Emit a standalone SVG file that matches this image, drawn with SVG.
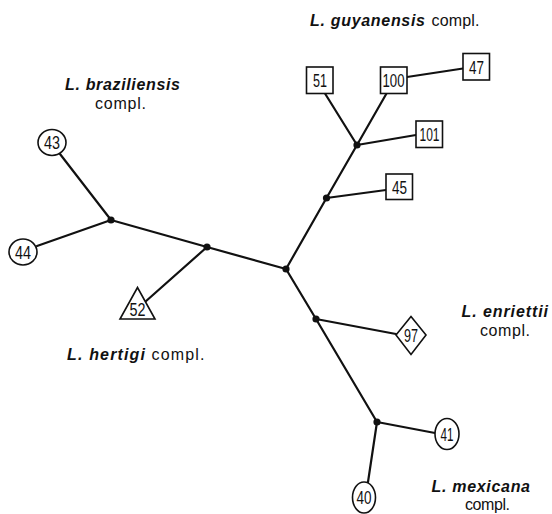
<svg xmlns="http://www.w3.org/2000/svg" width="552" height="514" viewBox="0 0 552 514">
<style>
.edge{stroke:#111;stroke-width:2.2;fill:none;stroke-linecap:round}
.shape{fill:#fff;stroke:#111;stroke-width:1.6}
.dot{fill:#111}
.num{font-family:"Liberation Sans Narrow","Liberation Sans",Arial,sans-serif;font-size:18px;fill:#111;text-anchor:middle}
.sp{font-family:"Liberation Sans",Arial,sans-serif;font-size:16px;font-weight:bold;font-style:italic;fill:#111}
.cp{font-family:"Liberation Sans",Arial,sans-serif;font-size:16px;fill:#111}
</style>
<rect width="552" height="514" fill="#fff"/>
<g id="connectors">
<line class="edge" x1="111" y1="220" x2="60" y2="154"/>
<line class="edge" x1="111" y1="220" x2="37" y2="246"/>
<line class="edge" x1="111" y1="220" x2="207" y2="247"/>
<line class="edge" x1="207" y1="247" x2="145" y2="302"/>
<line class="edge" x1="207" y1="247" x2="286" y2="269"/>
<line class="edge" x1="286" y1="269" x2="326.5" y2="198"/>
<line class="edge" x1="326.5" y1="198" x2="386" y2="190"/>
<line class="edge" x1="326.5" y1="198" x2="357" y2="145"/>
<line class="edge" x1="357" y1="145" x2="325" y2="93.5"/>
<line class="edge" x1="357" y1="145" x2="386.5" y2="93.5"/>
<line class="edge" x1="357" y1="145" x2="416" y2="135"/>
<line class="edge" x1="407" y1="77" x2="463" y2="68.5"/>
<line class="edge" x1="286" y1="269" x2="316" y2="319"/>
<line class="edge" x1="316" y1="319" x2="396" y2="334"/>
<line class="edge" x1="316" y1="319" x2="377" y2="422"/>
<line class="edge" x1="377" y1="422" x2="435" y2="433"/>
<line class="edge" x1="377" y1="422" x2="368" y2="482"/>
</g>
<g id="junctions">
<circle class="dot" cx="111" cy="220" r="3.6"/>
<circle class="dot" cx="207" cy="247" r="3.6"/>
<circle class="dot" cx="286" cy="269" r="3.6"/>
<circle class="dot" cx="326.5" cy="198" r="3.6"/>
<circle class="dot" cx="357" cy="145" r="3.6"/>
<circle class="dot" cx="316" cy="319" r="3.6"/>
<circle class="dot" cx="377" cy="422" r="3.6"/>
</g>
<g id="n43"><ellipse class="shape" cx="52" cy="142.5" rx="14" ry="13"/><text class="num" x="52" y="149" textLength="16" lengthAdjust="spacingAndGlyphs">43</text></g>
<g id="n44"><ellipse class="shape" cx="23" cy="252" rx="14" ry="13"/><text class="num" x="23" y="258.5" textLength="16" lengthAdjust="spacingAndGlyphs">44</text></g>
<g id="n52"><polygon class="shape" points="137.5,287.5 120,319 155,319"/><text class="num" x="137.5" y="316" textLength="16" lengthAdjust="spacingAndGlyphs">52</text></g>
<g id="n51"><rect class="shape" x="306.5" y="67" width="26.5" height="26.5"/><text class="num" x="320" y="87" textLength="14" lengthAdjust="spacingAndGlyphs">51</text></g>
<g id="n100"><rect class="shape" x="380.5" y="67" width="26.5" height="26.5"/><text class="num" x="393.5" y="87" textLength="22" lengthAdjust="spacingAndGlyphs">100</text></g>
<g id="n47"><rect class="shape" x="463" y="53.5" width="26.5" height="26.5"/><text class="num" x="476.5" y="73.5" textLength="15" lengthAdjust="spacingAndGlyphs">47</text></g>
<g id="n101"><rect class="shape" x="416" y="121" width="26.5" height="26.5"/><text class="num" x="429.5" y="141" textLength="20" lengthAdjust="spacingAndGlyphs">101</text></g>
<g id="n45"><rect class="shape" x="386" y="174" width="26.5" height="25.5"/><text class="num" x="399.5" y="193.5" textLength="15" lengthAdjust="spacingAndGlyphs">45</text></g>
<g id="n97"><polygon class="shape" points="411,316.5 426,335 411,354.5 396,335"/><text class="num" x="411" y="341.5" textLength="14" lengthAdjust="spacingAndGlyphs">97</text></g>
<g id="n41"><ellipse class="shape" cx="447" cy="434" rx="12" ry="15.5"/><text class="num" x="447" y="440.5" textLength="13" lengthAdjust="spacingAndGlyphs">41</text></g>
<g id="n40"><ellipse class="shape" cx="364" cy="497.5" rx="11.5" ry="15.5"/><text class="num" x="364" y="504" textLength="15" lengthAdjust="spacingAndGlyphs">40</text></g>
<g id="labels">
<text class="sp" x="65" y="90" textLength="115" lengthAdjust="spacing">L. braziliensis</text>
<text class="cp" x="95" y="108.5" textLength="51" lengthAdjust="spacing">compl.</text>
<text class="sp" x="310" y="26" textLength="115" lengthAdjust="spacing">L. guyanensis</text>
<text class="cp" x="431.5" y="26" textLength="48" lengthAdjust="spacing">compl.</text>
<text class="sp" x="67" y="359.5" textLength="78" lengthAdjust="spacing">L. hertigi</text>
<text class="cp" x="151.5" y="359.5" textLength="53" lengthAdjust="spacing">compl.</text>
<text class="sp" x="461.5" y="317" textLength="86.5" lengthAdjust="spacing">L. enriettii</text>
<text class="cp" x="480" y="335.5" textLength="50" lengthAdjust="spacing">compl.</text>
<text class="sp" x="431.5" y="491.5" textLength="98.5" lengthAdjust="spacing">L. mexicana</text>
<text class="cp" x="465" y="509.5" textLength="45" lengthAdjust="spacing">compl.</text>
</g>
</svg>
